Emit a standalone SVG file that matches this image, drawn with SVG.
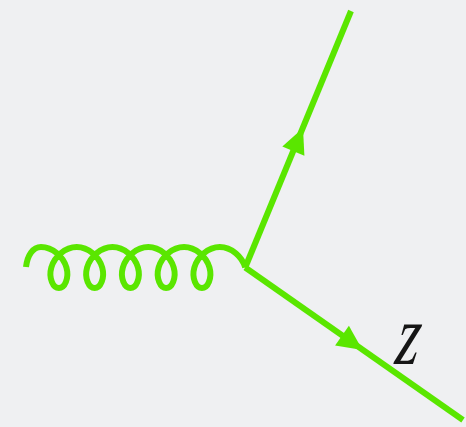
<svg xmlns="http://www.w3.org/2000/svg" width="466" height="427" viewBox="0 0 466 427">
<style>
.ln{fill:none;stroke:#5ae600;stroke-width:6;stroke-linecap:butt;stroke-linejoin:round}
.ah{fill:#5ae600;stroke:none}
.lbl{font-family:"Liberation Serif",serif;font-style:italic;fill:#151515}
</style>
<rect width="466" height="427" fill="#eff0f2"/>
<g id="connectors">
<path id="gluon" class="ln" d="M26,267 C27.5,255 33,247 41,247
c11.62,0 22.46,9.77 25.44,20.5 c2.98,10.73 -1.9,20.5 -7.56,20.5 c-5.66,0 -10.54,-9.77 -7.56,-20.5 c2.98,-10.73 13.82,-20.5 25.44,-20.5
c11.62,0 22.46,9.77 25.44,20.5 c2.98,10.73 -1.9,20.5 -7.56,20.5 c-5.66,0 -10.54,-9.77 -7.56,-20.5 c2.98,-10.73 13.82,-20.5 25.44,-20.5
c11.62,0 22.46,9.77 25.44,20.5 c2.98,10.73 -1.9,20.5 -7.56,20.5 c-5.66,0 -10.54,-9.77 -7.56,-20.5 c2.98,-10.73 13.82,-20.5 25.44,-20.5
c11.62,0 22.46,9.77 25.44,20.5 c2.98,10.73 -1.9,20.5 -7.56,20.5 c-5.66,0 -10.54,-9.77 -7.56,-20.5 c2.98,-10.73 13.82,-20.5 25.44,-20.5
c11.62,0 22.46,9.77 25.44,20.5 c2.98,10.73 -1.9,20.5 -7.56,20.5 c-5.66,0 -10.54,-9.77 -7.56,-20.5 c2.98,-10.73 13.82,-20.5 25.44,-20.5
c11.62,0 22.46,9.77 25.44,20.5"/>
<g id="fermion-up">
<path class="ln" d="M245.2,267.5 L351,11"/>
<polygon class="ah" points="303,128 282.3,146.4 304.4,155.7"/>
</g>
<g id="fermion-down">
<path class="ln" d="M245.2,267.5 L463,420"/>
<polygon class="ah" points="362.5,350 348.9,325.8 335.1,345.5"/>
</g>
</g>
<g id="label-z">
<text class="lbl" font-size="86" transform="translate(394,364) skewX(-8) scale(0.7,1)">z</text>
</g>
</svg>
